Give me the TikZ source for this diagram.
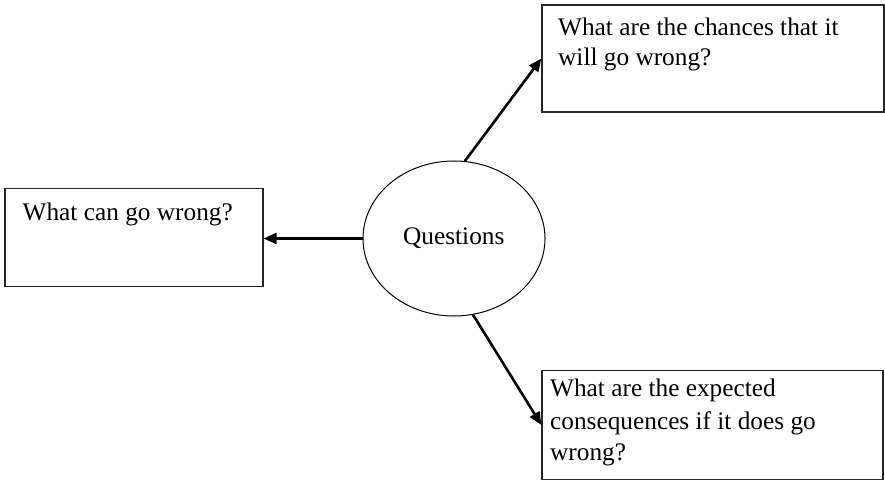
\documentclass[tikz,border=0pt]{standalone}
\usepackage{fontspec}
\setmainfont{Liberation Serif}
\usetikzlibrary{arrows.meta,shapes.geometric}
\begin{document}
\begin{tikzpicture}[x=1bp,y=-1bp,
  qbox/.style={draw=black!85,line width=1.2bp,rectangle,inner sep=0pt},
  txt/.style={anchor=base west,inner sep=0pt,font=\fontsize{25.4}{30}\selectfont},
  conn/.style={line width=2.6bp,-{Triangle[length=13bp,width=11bp]}}]
\useasboundingbox (0,0) rectangle (885,481);
% boxes
\node[qbox,minimum width=342bp,minimum height=107bp] (tr) at (713,58.5) {};
\node[qbox,minimum width=258bp,minimum height=98bp] (lb) at (134,237.5) {};
\node[qbox,minimum width=341bp,minimum height=109bp] (br) at (712.5,425) {};
% ellipse
\node[draw,ellipse,line width=1bp,minimum width=182bp,minimum height=155bp,inner sep=0pt] (q) at (454,238.5) {};
\node[txt] (qt) at (403,245) {Questions};
% texts
\node[txt] (tr1) at (558,36) {What are the chances that it};
\node[txt] (tr2) at (558,65.5) {will go wrong?};
\node[txt] (lb1) at (22.5,220.5) {What can go wrong?};
\node[txt] (br1) at (550,396) {What are the expected};
\node[txt] (br2) at (550,429.5) {consequences if it does go};
\node[txt] (br3) at (550,460.5) {wrong?};
% connectors
\draw[conn] (q.west) -- (q.west -| lb.east);
\draw[conn] (q.82) -- (tr.west);
\draw[conn] (q.-76) -- (br.west);
\end{tikzpicture}
\end{document}
